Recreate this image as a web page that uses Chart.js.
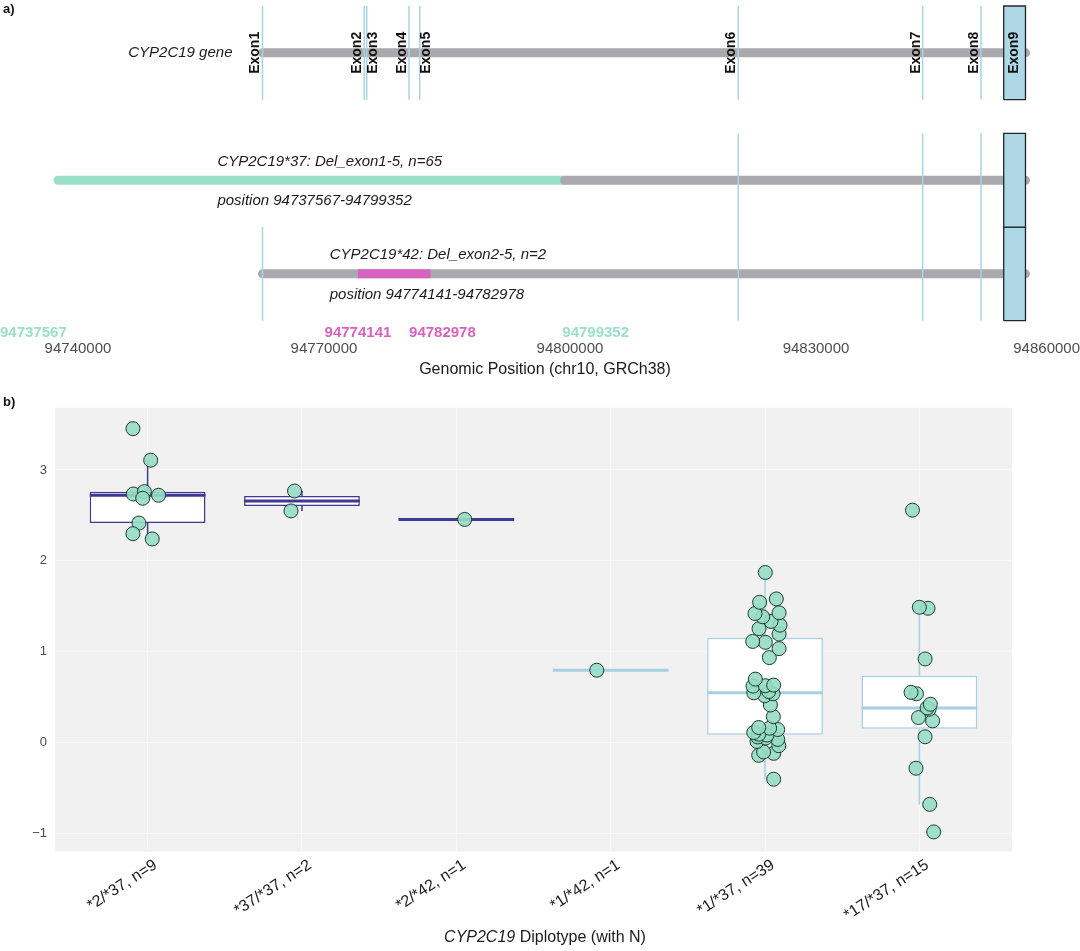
<!DOCTYPE html>
<html>
<head>
<meta charset="utf-8">
<script src="https://cdn.jsdelivr.net/npm/chart.js@4.4.1/dist/chart.umd.min.js"></script>
<style>
  body { margin: 0; background: #fff; width: 1080px; height: 951px; overflow: hidden; }
  #topWrap { position: absolute; left: 0; top: 0; width: 1080px; height: 392px; }
  #botWrap { position: absolute; left: 0; top: 392px; width: 1080px; height: 559px; }
</style>
</head>
<body>
<div id="topWrap"><canvas id="trackChart" width="1080" height="392"></canvas></div>
<div id="botWrap"><canvas id="boxChart" width="1080" height="559"></canvas></div>
<script>
// a) gene model, chr10 GRCh38
const exonNames = ["Exon1", "Exon2", "Exon3", "Exon4", "Exon5", "Exon6", "Exon7", "Exon8", "Exon9"];
const exonStart = [94762500, 94774910, 94775210, 94780370, 94781680, 94820520, 94843010, 94850120, 94852890];
const exon9End = 94855547;
const geneEnd = 94855547;

// deletions
const delLabels = ["CYP2C19*37: Del_exon1-5, n=65", "CYP2C19*42: Del_exon2-5, n=2"];
const delStart = [94737567, 94774141];
const delEnd = [94799352, 94782978];

const posTicks = [94740000, 94770000, 94800000, 94830000, 94860000];

// b) scores per diplotype
const diplotypes = ["*2/*37, n=9", "*37/*37, n=2", "*2/*42, n=1", "*1/*42, n=1", "*1/*37, n=39", "*17/*37, n=15"];
const s2_37 = [3.454, 3.107, 2.735, 2.761, 2.721, 2.688, 2.415, 2.298, 2.240];
const s37_37 = [2.768, 2.549];
const s2_42 = [2.455];
const s1_42 = [0.795];
const s1_37 = [-0.405, -0.142, -0.120, -0.105, -0.036, 0.011, 0.033, 0.048, 0.060, 0.081,
  0.090, 0.109, 0.142, 0.157, 0.164, 0.284, 0.412, 0.514, 0.536, 0.547,
  0.560, 0.620, 0.624, 0.631, 0.697, 0.934, 1.033, 1.102, 1.112, 1.193,
  1.252, 1.291, 1.332, 1.383, 1.419, 1.427, 1.543, 1.580, 1.871];
const s17_37 = [-0.985, -0.682, -0.284, 0.062, 0.237, 0.274, 0.365, 0.380, 0.420, 0.536, 0.551, 0.919, 1.477, 1.488, 2.557];

// horizontal jitter of each point (category units)
const j2_37 = [-0.095, 0.020, -0.093, -0.021, 0.071, -0.032, -0.056, -0.095, 0.030];
const j37_37 = [-0.048, -0.071];
const j2_42 = [0.054];
const j1_42 = [-0.090];
const j1_37 = [0.056, -0.041, 0.056, -0.009, 0.089, -0.052, 0.082, 0.004, -0.047, 0.013,
  -0.041, -0.073, 0.082, 0.030, -0.041, 0.054, 0.035, -0.002, 0.052, -0.073,
  0.024, -0.078, 0.002, 0.056, -0.063, 0.028, 0.091, 0.002, -0.080, 0.091,
  -0.039, 0.097, 0.039, -0.015, -0.065, 0.091, -0.035, 0.073, 0.002];
const j17_37 = [0.093, 0.067, -0.022, 0.037, 0.086, -0.006, 0.063, 0.050, 0.071, -0.019, -0.054, 0.037, 0.056, 0.000, -0.045];

const scores = [s2_37, s37_37, s2_42, s1_42, s1_37, s17_37];
const jitter = [j2_37, j37_37, j2_42, j1_42, j1_37, j17_37];

// styling
const FONT = "'Liberation Sans', Arial, Helvetica, sans-serif";
const GRAY = '#a9a9ae';
const GREEN = '#9adfc8';
const PINK = '#d862c0';
const EXON_LINE = '#a9d4e0';
const EXON_FILL = '#add8e6';
const delColors = [GREEN, PINK];
const boxColors = ['#3d3a8f', '#3d3a8f', '#3d3a8f', '#a8cfe1', '#a8cfe1', '#a8cfe1'];
const exonLabelSide = [-1, -1, 1, -1, 1, -1, -1, -1, 0];
const delTextAt = [94757000, 94770700];   // left edge of the row captions
const tickNudge = [-30, 0, 12, 31];        // label repel for the coloured break points

const geneRow = 2.36;
const delRows = [1, 0];

Chart.defaults.font.family = FONT;

// ---------- a) track chart ----------
function seg(a, b, yv) { return [{ x: a, y: yv }, { x: b, y: yv }]; }

const exonLinePts = [];
function addExonLines(rowY, del) {
  for (let i = 0; i < exonStart.length - 1; i++) {
    if (del && exonStart[i] >= del[0] && exonStart[i] <= del[1]) continue;
    exonLinePts.push({ x: exonStart[i], y: rowY - 0.5 }, { x: exonStart[i], y: rowY + 0.5 }, { x: exonStart[i], y: null });
  }
}
addExonLines(geneRow, null);
delRows.forEach((r, i) => addExonLines(r, [delStart[i], delEnd[i]]));

function exonBox(rowY) {
  return [
    { x: exonStart[8], y: rowY - 0.5 }, { x: exon9End, y: rowY - 0.5 },
    { x: exon9End, y: rowY + 0.5 }, { x: exonStart[8], y: rowY + 0.5 },
    { x: exonStart[8], y: rowY - 0.5 }
  ];
}

const lineBase = { pointRadius: 0, borderCapStyle: 'round', clip: false, fill: false, tension: 0 };
const trackSets = [];
// exon 9 boxes
[geneRow].concat(delRows).forEach(r => {
  trackSets.push(Object.assign({}, lineBase, {
    data: exonBox(r), borderColor: '#24242e', borderWidth: 1.3, backgroundColor: EXON_FILL,
    fill: 'shape', borderCapStyle: 'butt', order: 1
  }));
});
// exon lines
trackSets.push(Object.assign({}, lineBase, { data: exonLinePts, borderColor: EXON_LINE, borderWidth: 1.5, borderCapStyle: 'butt', order: 2 }));
// deleted parts
delRows.forEach((r, i) => {
  trackSets.push(Object.assign({}, lineBase, {
    data: seg(delStart[i], delEnd[i], r), borderColor: delColors[i], borderWidth: 9,
    borderCapStyle: i === 0 ? 'round' : 'butt', order: i === 0 ? 4 : 3
  }));
});
// remaining gene body
trackSets.push(Object.assign({}, lineBase, { data: seg(exonStart[0], geneEnd, geneRow), borderColor: GRAY, borderWidth: 9, order: 5 }));
trackSets.push(Object.assign({}, lineBase, { data: seg(delEnd[0], geneEnd, delRows[0]), borderColor: GRAY, borderWidth: 9, order: 3 }));
trackSets.push(Object.assign({}, lineBase, { data: seg(exonStart[0], geneEnd, delRows[1]), borderColor: GRAY, borderWidth: 9, order: 5 }));

const trackText = {
  id: 'trackText',
  afterDatasetsDraw(chart) {
    const { ctx, scales: { x, y } } = chart;
    ctx.save();
    // exon labels
    ctx.font = 'bold 14px ' + FONT;
    ctx.fillStyle = '#111';
    ctx.textAlign = 'center';
    exonNames.forEach((name, i) => {
      let px = x.getPixelForValue(exonStart[i]);
      const py = y.getPixelForValue(geneRow);
      if (exonLabelSide[i] === 0) { px = (px + x.getPixelForValue(exon9End)) / 2; ctx.textBaseline = 'middle'; }
      else if (exonLabelSide[i] < 0) { px -= 3; ctx.textBaseline = 'alphabetic'; }
      else { px -= 0.5; ctx.textBaseline = 'top'; }
      ctx.save();
      ctx.translate(px, py);
      ctx.rotate(-Math.PI / 2);
      ctx.fillText(name, 0, 0);
      ctx.restore();
    });
    // row captions
    ctx.font = 'italic 15px ' + FONT;
    ctx.fillStyle = '#1a1a1a';
    ctx.textBaseline = 'middle';
    ctx.textAlign = 'right';
    ctx.fillText('CYP2C19 gene', x.getPixelForValue(exonStart[0]) - 30, y.getPixelForValue(geneRow));
    ctx.textAlign = 'left';
    delRows.forEach((r, i) => {
      const lx = x.getPixelForValue(delTextAt[i]);
      ctx.fillText(delLabels[i], lx, y.getPixelForValue(r + 0.2));
      ctx.fillText('position ' + delStart[i] + '-' + delEnd[i], lx, y.getPixelForValue(r - 0.22));
    });
    ctx.restore();
  },
  afterDraw(chart) {
    const { ctx, chartArea, scales: { x } } = chart;
    const W = chart.width;
    ctx.save();
    ctx.textBaseline = 'middle';
    ctx.textAlign = 'center';
    // coloured break points
    ctx.font = 'bold 15px ' + FONT;
    const bps = [delStart[0], delStart[1], delEnd[1], delEnd[0]];
    const bpCols = [GREEN, PINK, PINK, GREEN];
    const sorted = bps.map((v, i) => ({ v, c: bpCols[i] })).sort((a, b) => a.v - b.v);
    sorted.forEach((b, i) => {
      const w = ctx.measureText(String(b.v)).width;
      let cx = x.getPixelForValue(b.v) + tickNudge[i];
      cx = Math.min(Math.max(cx, w / 2), W - w / 2);
      ctx.fillStyle = b.c;
      ctx.fillText(String(b.v), cx, chartArea.bottom + 12);
    });
    // axis ticks
    ctx.font = '15px ' + FONT;
    ctx.fillStyle = '#4d4d4d';
    posTicks.forEach(v => {
      const w = ctx.measureText(String(v)).width;
      let cx = x.getPixelForValue(v);
      cx = Math.min(Math.max(cx, w / 2), W - w / 2);
      ctx.fillText(String(v), cx, chartArea.bottom + 28);
    });
    ctx.font = '16px ' + FONT;
    ctx.fillStyle = '#1a1a1a';
    ctx.fillText('Genomic Position (chr10, GRCh38)', 545, chartArea.bottom + 48.5);
    ctx.font = 'bold 13px ' + FONT;
    ctx.fillStyle = '#111';
    ctx.textAlign = 'left';
    ctx.fillText('a)', 3, 9);
    ctx.restore();
  }
};

new Chart(document.getElementById('trackChart').getContext('2d'), {
  type: 'line',
  data: { datasets: trackSets },
  options: {
    responsive: false,
    animation: false,
    layout: { padding: { top: 6, bottom: 71.3, left: 0, right: 0 } },
    plugins: { legend: { display: false }, tooltip: { enabled: false } },
    scales: {
      x: { type: 'linear', display: false, min: 94730490, max: 94862195 },
      y: { type: 'linear', display: false, min: -0.5, max: 2.86 }
    }
  },
  plugins: [trackText]
});

// ---------- b) box plot ----------
function quantile(s, p) {
  const h = (s.length - 1) * p;
  const lo = Math.floor(h);
  const hi = Math.min(lo + 1, s.length - 1);
  return s[lo] + (h - lo) * (s[hi] - s[lo]);
}
const stats = scores.map(v => {
  const s = v.slice().sort((a, b) => a - b);
  const q1 = quantile(s, 0.25), med = quantile(s, 0.5), q3 = quantile(s, 0.75);
  const iqr = q3 - q1;
  const lo = Math.min(...s.filter(d => d >= q1 - 1.5 * iqr));
  const hi = Math.max(...s.filter(d => d <= q3 + 1.5 * iqr));
  return { q1, med, q3, lo, hi };
});

const HALF = 0.375;
const boxSets = [];
const pts = [];
scores.forEach((v, i) => v.forEach((d, k) => pts.push({ x: i + jitter[i][k], y: d })));
boxSets.push({
  type: 'scatter', data: pts, pointRadius: 7, pointHoverRadius: 7,
  backgroundColor: 'rgba(150,221,196,0.9)', borderColor: '#1f3a33', borderWidth: 1, order: 0, clip: false
});
stats.forEach((st, i) => {
  boxSets.push({
    type: 'line', data: [{ x: i - HALF, y: st.med }, { x: i + HALF, y: st.med }],
    borderColor: boxColors[i], borderWidth: 3, pointRadius: 0, order: 1
  });
  boxSets.push({
    type: 'line', data: [{ x: i, y: st.lo }, { x: i, y: st.q1 }, { x: i, y: null }, { x: i, y: st.q3 }, { x: i, y: st.hi }],
    borderColor: boxColors[i], borderWidth: 1.5, pointRadius: 0, order: 2
  });
});
boxSets.push({
  type: 'bar',
  data: stats.map((st, i) => ({ x: i, y: [st.q1, st.q3] })),
  backgroundColor: '#ffffff', borderColor: boxColors, borderWidth: 1.5, borderSkipped: false,
  categoryPercentage: 1, barPercentage: 0.75, order: 3
});

const panelBits = {
  id: 'panelBits',
  beforeDraw(chart) {
    const { ctx, chartArea: a } = chart;
    ctx.save();
    ctx.fillStyle = '#f1f1f1';
    ctx.fillRect(a.left, a.top, a.right - a.left, a.bottom - a.top);
    ctx.restore();
  },
  afterDraw(chart) {
    const { ctx, chartArea: a } = chart;
    ctx.save();
    ctx.textBaseline = 'middle';
    const t1 = 'CYP2C19', t2 = ' Diplotype (with N)';
    ctx.font = 'italic 16px ' + FONT;
    const w1 = ctx.measureText(t1).width;
    ctx.font = '16px ' + FONT;
    const w2 = ctx.measureText(t2).width;
    const x0 = 545 - (w1 + w2) / 2;
    ctx.fillStyle = '#1a1a1a';
    ctx.textAlign = 'left';
    ctx.font = 'italic 16px ' + FONT;
    ctx.fillText(t1, x0, a.bottom + 86);
    ctx.font = '16px ' + FONT;
    ctx.fillText(t2, x0 + w1, a.bottom + 86);
    ctx.font = 'bold 13px ' + FONT;
    ctx.fillStyle = '#111';
    ctx.fillText('b)', 3, 10);
    ctx.restore();
  }
};

new Chart(document.getElementById('boxChart').getContext('2d'), {
  type: 'bar',
  data: { datasets: boxSets },
  options: {
    responsive: false,
    animation: false,
    layout: { padding: { top: 13, right: 68, left: 0, bottom: 0 } },
    plugins: { legend: { display: false }, tooltip: { enabled: false } },
    scales: {
      x: {
        type: 'linear', min: -0.6, max: 5.6, offset: false,
        afterBuildTicks: s => { s.ticks = diplotypes.map((_, i) => ({ value: i })); },
        afterFit: s => { s.height = 99.3; },
        ticks: {
          callback: v => diplotypes[v], minRotation: 33, maxRotation: 33, autoSkip: false,
          padding: 4, labelOffset: 8, color: '#1a1a1a', font: { size: 16 }
        },
        grid: { color: '#f8f8f8', lineWidth: 1, drawTicks: false, offset: false },
        border: { display: false }
      },
      y: {
        type: 'linear', min: -1.203, max: 3.684,
        afterBuildTicks: s => { s.ticks = [-1, 0, 1, 2, 3].map(v => ({ value: v })); },
        afterFit: s => { s.width = 55; },
        ticks: {
          callback: v => (v < 0 ? '\u2212' + Math.abs(v) : String(v)),
          padding: 8, color: '#4d4d4d', font: { size: 13 }
        },
        grid: { color: '#f8f8f8', lineWidth: 1, drawTicks: false },
        border: { display: false }
      }
    }
  },
  plugins: [panelBits]
});
</script>
</body>
</html>
